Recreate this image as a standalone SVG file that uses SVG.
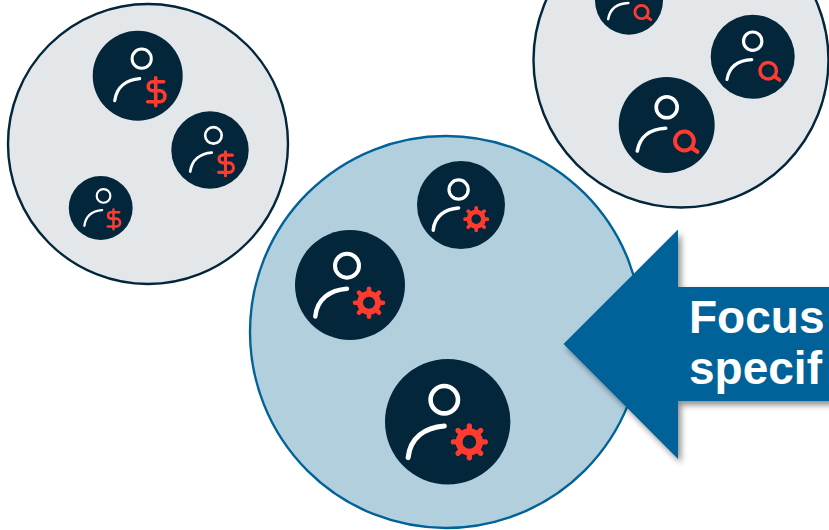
<svg xmlns="http://www.w3.org/2000/svg" xmlns:xlink="http://www.w3.org/1999/xlink" width="829" height="530" viewBox="0 0 829 530">
<style>
.dark{fill:#03263b}
.w{fill:none;stroke:#fff;stroke-linecap:round}
.r{fill:none;stroke:#ff3b30;stroke-linecap:round}
.group{stroke-width:2.4}
.label{font-family:"Liberation Sans",Arial,sans-serif;font-weight:700;font-size:46px;fill:#fff}
</style>
<defs>
<filter id="sh" x="-20%" y="-20%" width="140%" height="140%">
<feGaussianBlur in="SourceAlpha" stdDeviation="3"/>
<feOffset dx="3" dy="4"/>
<feComponentTransfer><feFuncA type="linear" slope="0.45"/></feComponentTransfer>
<feMerge><feMergeNode/><feMergeNode in="SourceGraphic"/></feMerge>
</filter>
<g id="dollar">
<circle class="dark" r="45"/>
<circle class="w" cx="4" cy="-17" r="9.6" stroke-width="3"/>
<path class="w" stroke-width="3.2" d="M-23 25C-21 11-11 4 2 3"/>
<path class="r" stroke-width="3.6" stroke-linecap="butt" d="M26 6H15C9 6 9 15 15 15H22C29 15 29 26 22 26H10M18 2V30"/>
</g>
<g id="gear">
<circle class="dark" r="55"/>
<circle class="w" cx="-3" cy="-19.3" r="12" stroke-width="4"/>
<path class="w" stroke-width="4.4" d="M-34.7 31.5C-33 14-20 5-3 3.7"/>
<g transform="translate(19 17.7)">
<circle class="r" r="9" stroke-width="6"/>
<path class="r" stroke-width="4.6" d="M0-14V-9M0 14V9M-14 0H-9M14 0H9M-10-10L-6.500-6.500M10 10L6.500 6.500M-10 10L-6.500 6.500M10-10L6.500-6.500"/>
</g>
</g>
<g id="search">
<circle class="dark" r="48"/>
<circle class="w" cy="-17.700" r="10.500" stroke-width="3.600"/>
<path class="w" stroke-width="3.600" d="M-29.400 26C-27 12-17 4-1 3.300"/>
<circle class="r" cx="17.700" cy="16" r="9.400" stroke-width="4"/>
<path class="r" stroke-width="4.200" d="M25 22.700L30.700 26.700"/>
</g>
</defs>
<g id="group-dollar">
<circle class="group" cx="148" cy="144" r="140" fill="#e3e7ea" stroke="#03263b"/>
<use id="user-dollar-1" xlink:href="#dollar" href="#dollar" transform="translate(137.700 75.700)"/>
<use id="user-dollar-2" xlink:href="#dollar" href="#dollar" transform="translate(210 150) scale(.86)"/>
<use id="user-dollar-3" xlink:href="#dollar" href="#dollar" transform="translate(100.700 208) scale(.71)"/>
</g>
<g id="group-search">
<circle class="group" cx="681" cy="60" r="147.500" fill="#e3e7ea" stroke="#03263b"/>
<use id="user-search-1" xlink:href="#search" href="#search" transform="translate(629 .7) scale(.708)"/>
<use id="user-search-2" xlink:href="#search" href="#search" transform="translate(752.700 56.700) scale(.875)"/>
<use id="user-search-3" xlink:href="#search" href="#search" transform="translate(666.700 125)"/>
</g>
<g id="group-gear">
<circle class="group" cx="446" cy="332" r="196" fill="#b2cfde" stroke="#006298"/>
<use id="user-gear-1" xlink:href="#gear" href="#gear" transform="translate(461 205) scale(.8)"/>
<use id="user-gear-2" xlink:href="#gear" href="#gear" transform="translate(350 285)"/>
<use id="user-gear-3" xlink:href="#gear" href="#gear" transform="translate(447.700 421.700) scale(1.14)"/>
</g>
<g id="callout">
<path d="M563.500 344L678 229.500V287H860V401H678V459Z" fill="#006298" filter="url(#sh)"/>
<text class="label" x="689" y="333">Focus</text>
<text class="label" x="689" y="384">specif</text>
</g>
<g id="connectors"/>
</svg>
